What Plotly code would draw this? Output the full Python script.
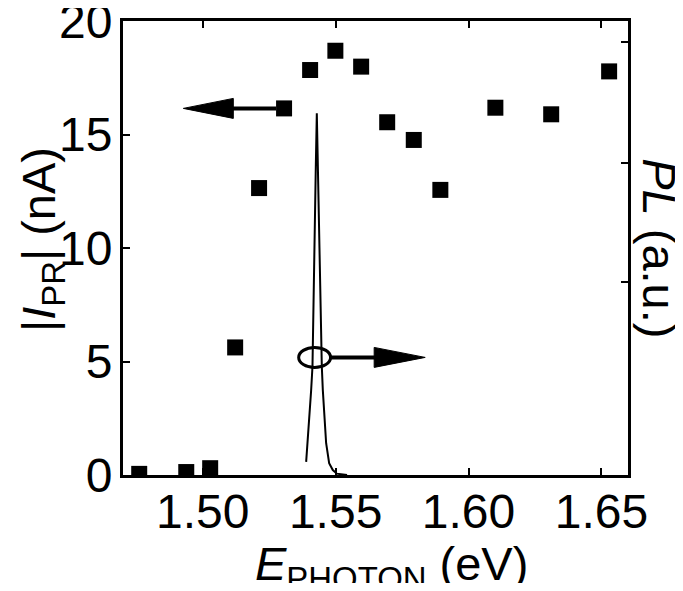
import plotly.graph_objects as go

# Photocurrent |I_PR| (nA) vs photon energy (eV)
energy_ev = [1.4761, 1.4938, 1.5028, 1.5122, 1.5212, 1.5306, 1.5404, 1.5499,
             1.5596, 1.5694, 1.5794, 1.5894, 1.6101, 1.6311, 1.6529]
current_na = [0.05, 0.13, 0.30, 5.62, 12.64, 16.15, 17.84, 18.69,
              17.99, 15.54, 14.76, 12.56, 16.18, 15.89, 17.78]

# PL spectrum (a.u.)
pl_energy = [1.53891, 1.53954, 1.54016, 1.54079, 1.54129, 1.54154, 1.54179,
             1.54204, 1.54229, 1.54254, 1.54292, 1.54330, 1.54355, 1.54380,
             1.54405, 1.54442, 1.54480, 1.54518, 1.54568, 1.54643, 1.54756,
             1.54894, 1.55044, 1.55430]
pl_value = [0.029, 0.077, 0.128, 0.187, 0.239, 0.312, 0.385,
            0.496, 0.606, 0.679, 0.797, 0.679, 0.606, 0.496,
            0.385, 0.312, 0.239, 0.187, 0.128, 0.070, 0.026,
            0.011, 0.003, 0.0]

x_ticks = [1.50, 1.55, 1.60, 1.65]
x_ticklabels = ["1.50", "1.55", "1.60", "1.65"]
y_ticks = [0, 5, 10, 15, 20]
y_ticklabels = ["0", "5", "10", "15", "20"]
pl_ticks = [0.425, 0.687, 0.954]

FONT = "Arial, Liberation Sans, sans-serif"
FS = 47
TFS = 48

fig = go.Figure()
fig.add_trace(go.Scatter(x=energy_ev, y=current_na, mode="markers",
                         marker=dict(symbol="square", size=16, color="black",
                                     line=dict(width=0)),
                         showlegend=False, yaxis="y"))
fig.add_trace(go.Scatter(x=pl_energy, y=pl_value, mode="lines",
                         line=dict(color="black", width=2),
                         showlegend=False, yaxis="y2"))

# arrows (data coordinates of the left axis)
shapes = [
    dict(type="line", xref="x", yref="y", x0=1.5110, y0=16.15, x1=1.5276, y1=16.15,
         line=dict(color="black", width=4)),
    dict(type="path", xref="x", yref="y",
         path="M 1.4927,16.15 L 1.5115,16.59 L 1.5115,15.71 Z",
         fillcolor="black", line=dict(color="black", width=1)),
    dict(type="circle", xref="x", yref="y", x0=1.5361, x1=1.5481, y0=4.74, y1=5.62,
         line=dict(color="black", width=3)),
    dict(type="line", xref="x", yref="y", x0=1.5481, y0=5.18, x1=1.5650, y1=5.18,
         line=dict(color="black", width=4)),
    dict(type="path", xref="x", yref="y",
         path="M 1.5837,5.18 L 1.5645,5.62 L 1.5645,4.74 Z",
         fillcolor="black", line=dict(color="black", width=1)),
]

fig.update_layout(
    width=667, height=575,
    margin=dict(l=115, r=47, t=13, b=108),
    paper_bgcolor="white", plot_bgcolor="white",
    font=dict(family=FONT, size=FS, color="black"),
    shapes=shapes,
    xaxis=dict(range=[1.47, 1.66], tickvals=x_ticks, ticktext=x_ticklabels,
               ticks="inside", ticklen=7, tickwidth=2, tickcolor="black",
               showline=True, linewidth=3, linecolor="black", mirror="ticks",
               showgrid=False, zeroline=False, automargin=False,
               ticklabeloverflow="allow", ticklabelstandoff=-8,
               tickfont=dict(size=TFS)),
    yaxis=dict(range=[0, 20], tickvals=y_ticks, ticktext=y_ticklabels,
               ticks="inside", ticklen=7, tickwidth=2, tickcolor="black",
               showline=True, linewidth=3, linecolor="black", mirror=True,
               showgrid=False, zeroline=False, automargin=False,
               ticklabeloverflow="allow", ticklabelstandoff=-2,
               tickfont=dict(size=TFS)),
    yaxis2=dict(range=[0, 1], overlaying="y", side="right",
                tickvals=pl_ticks, showticklabels=False,
                ticks="inside", ticklen=7, tickwidth=2, tickcolor="black",
                showgrid=False, zeroline=False, showline=False,
                automargin=False),
    annotations=[
        dict(text="<i>E</i><sub>PHOTON</sub> (eV)", xref="paper", yref="paper",
             x=0.531, y=-0.203, showarrow=False, xanchor="center", yanchor="middle",
             font=dict(size=FS, family=FONT)),
        dict(text="|<i>I</i><sub>PR</sub>| (nA)", xref="paper", yref="paper",
             x=-0.16, y=0.518, textangle=-90, showarrow=False,
             xanchor="center", yanchor="middle", font=dict(size=FS, family=FONT)),
        dict(text="<i>PL</i> (a.u.)", xref="paper", yref="paper",
             x=1.063, y=0.5, textangle=90, showarrow=False,
             font=dict(size=FS, family=FONT), xanchor="center", yanchor="middle"),
    ],
)

fig.write_html("out.html")
